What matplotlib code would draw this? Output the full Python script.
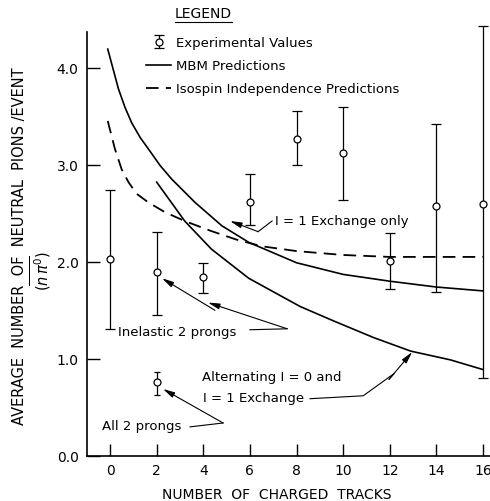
import matplotlib
matplotlib.use("Agg")
import matplotlib.pyplot as plt
from matplotlib.lines import Line2D

# experimental values (number of charged tracks vs <n pi0>)
exp_x = [0, 2, 4, 6, 8, 10, 12, 14, 16]
exp_y = [2.03, 1.89, 1.84, 2.62, 3.26, 3.12, 2.01, 2.57, 2.60]
exp_lo = [1.31, 1.45, 1.68, 2.38, 3.00, 2.64, 1.72, 1.69, 0.80]
exp_hi = [2.74, 2.31, 1.99, 2.90, 3.55, 3.59, 2.30, 3.42, 4.43]

# all 2 prongs point
all2_x = [2]
all2_y = [0.76]
all2_lo = [0.63]
all2_hi = [0.87]

# MBM prediction, I=1 exchange only
mbm_x = [-0.1, 0.36, 0.64, 0.93, 1.29, 1.65, 2.15, 2.65, 3.65, 4.8, 5.95, 8, 10, 12, 14, 16]
mbm_y = [4.19, 3.78, 3.59, 3.43, 3.28, 3.16, 2.99, 2.85, 2.61, 2.37, 2.20, 1.99, 1.87, 1.80, 1.74, 1.70]

# MBM prediction, alternating I=0 and I=1 exchange
alt_x = [2, 3.2, 4.35, 5.95, 8.15, 9.6, 11.3, 12.9, 14.6, 16]
alt_y = [2.82, 2.42, 2.13, 1.83, 1.54, 1.39, 1.22, 1.08, 0.99, 0.89]

# isospin independence prediction
iso_x = [-0.1, 0.21, 0.5, 0.79, 1.14, 1.65, 2.36, 3.2, 4.3, 5.4, 6.5, 8, 9, 10, 12, 14, 16]
iso_y = [3.45, 3.16, 2.95, 2.82, 2.70, 2.61, 2.51, 2.42, 2.32, 2.23, 2.16, 2.11, 2.09, 2.07, 2.05, 2.05, 2.05]

xticks = [0, 2, 4, 6, 8, 10, 12, 14, 16]
yticks = [0, 1, 2, 3, 4]
yticklabels = ["0.0", "1.0", "2.0", "3.0", "4.0"]

fig = plt.figure(figsize=(4.9, 5.02), dpi=100)
ax = fig.add_axes([87/490, 45/502, 403/490, 457/502])
ax.set_xlim(-0.99, 16.3)
ax.set_ylim(0, 4.706)

dash = (0, (7, 4))
ax.plot(mbm_x, mbm_y, color="black", lw=1.2)
ax.plot(alt_x, alt_y, color="black", lw=1.2)
ax.plot(iso_x, iso_y, color="black", lw=1.3, linestyle=dash)

yerr = [[y - l for y, l in zip(exp_y, exp_lo)], [h - y for y, h in zip(exp_y, exp_hi)]]
eb = ax.errorbar(exp_x, exp_y, yerr=yerr, fmt="o", color="black", ms=5,
                 mfc="white", mec="black", mew=0.9, elinewidth=0.9,
                 capsize=3.5, capthick=0.9, zorder=5)
yerr2 = [[y - l for y, l in zip(all2_y, all2_lo)], [h - y for y, h in zip(all2_y, all2_hi)]]
ax.errorbar(all2_x, all2_y, yerr=yerr2, fmt="o", color="black", ms=5,
            mfc="white", mec="black", mew=0.9, elinewidth=0.9,
            capsize=2.5, capthick=0.9, zorder=5)

for s in ["top", "right"]:
    ax.spines[s].set_visible(False)
ax.spines["left"].set_bounds(0, 4.37)
ax.spines["left"].set_linewidth(1.2)
ax.spines["bottom"].set_linewidth(1.2)
ax.set_xticks(xticks)
ax.set_yticks(yticks)
ax.set_yticklabels(yticklabels)
ax.tick_params(direction="in", length=9, width=1.0, labelsize=10)
ax.tick_params(axis="y", pad=6)
ax.tick_params(axis="x", pad=5)

# legend
h_line = Line2D([], [], color="black", lw=1.2)
h_dash = Line2D([], [], color="black", lw=1.3, linestyle=dash)
leg = ax.legend([eb, h_line, h_dash],
                ["Experimental Values", "MBM Predictions", "Isospin Independence Predictions"],
                frameon=False, fontsize=9.5, loc="upper left", bbox_to_anchor=(1.55, 4.32),
                bbox_transform=ax.transData, borderpad=0, borderaxespad=0,
                handlelength=1.9, handletextpad=0.35, labelspacing=0.75)
title = ax.text(2.79, 4.56, "LEGEND", fontsize=10, va="center", ha="left")
fig.canvas.draw()
tb = title.get_window_extent().transformed(fig.transFigure.inverted())
fig.add_artist(Line2D([tb.x0, tb.x1], [tb.y0 - 0.004, tb.y0 - 0.004],
                      transform=fig.transFigure, color="black", lw=0.8))

# annotations
ap = dict(arrowstyle="-|>,head_length=0.7,head_width=0.17", color="black",
          lw=0.8, shrinkA=0, shrinkB=0)
fs = 9.5

ax.text(7.08, 2.42, "I = 1 Exchange only", fontsize=fs, va="center")
ax.plot([6.95, 6.35], [2.42, 2.31], color="black", lw=0.8)
ax.annotate("", xy=(5.15, 2.42), xytext=(6.35, 2.31), arrowprops=ap)

ax.text(0.34, 1.28, "Inelastic 2 prongs", fontsize=fs, va="center")
ax.plot([6.0, 7.6], [1.30, 1.31], color="black", lw=0.8)
ax.annotate("", xy=(4.2, 1.58), xytext=(7.6, 1.31), arrowprops=ap)
ax.annotate("", xy=(2.23, 1.83), xytext=(4.5, 1.50), arrowprops=ap)

ax.text(-0.34, 0.31, "All 2 prongs", fontsize=fs, va="center")
ax.plot([3.43, 4.85], [0.30, 0.34], color="black", lw=0.8)
ax.annotate("", xy=(2.27, 0.69), xytext=(4.85, 0.34), arrowprops=ap)

ax.text(3.95, 0.82, "Alternating I = 0 and", fontsize=fs, va="center")
ax.text(3.99, 0.60, "I = 1 Exchange", fontsize=fs, va="center")
ax.plot([8.58, 10.86, 12.19, 11.97], [0.59, 0.62, 0.85, 0.79], color="black", lw=0.8)
ax.annotate("", xy=(12.96, 1.07), xytext=(11.97, 0.79), arrowprops=ap)

fig.text(20/490, 1 - 246/502, "AVERAGE  NUMBER  OF  NEUTRAL  PIONS /EVENT",
         rotation=90, ha="center", va="center", fontsize=10.5)
fig.text(41/490, 1 - 271/502, r"$(\overline{n\,\pi^{0}})$",
         rotation=90, ha="center", va="center", fontsize=10.5)
fig.text(277/490, 1 - 495/502, "NUMBER  OF  CHARGED  TRACKS",
         ha="center", va="center", fontsize=10)

fig.savefig("out.png", dpi=100)
